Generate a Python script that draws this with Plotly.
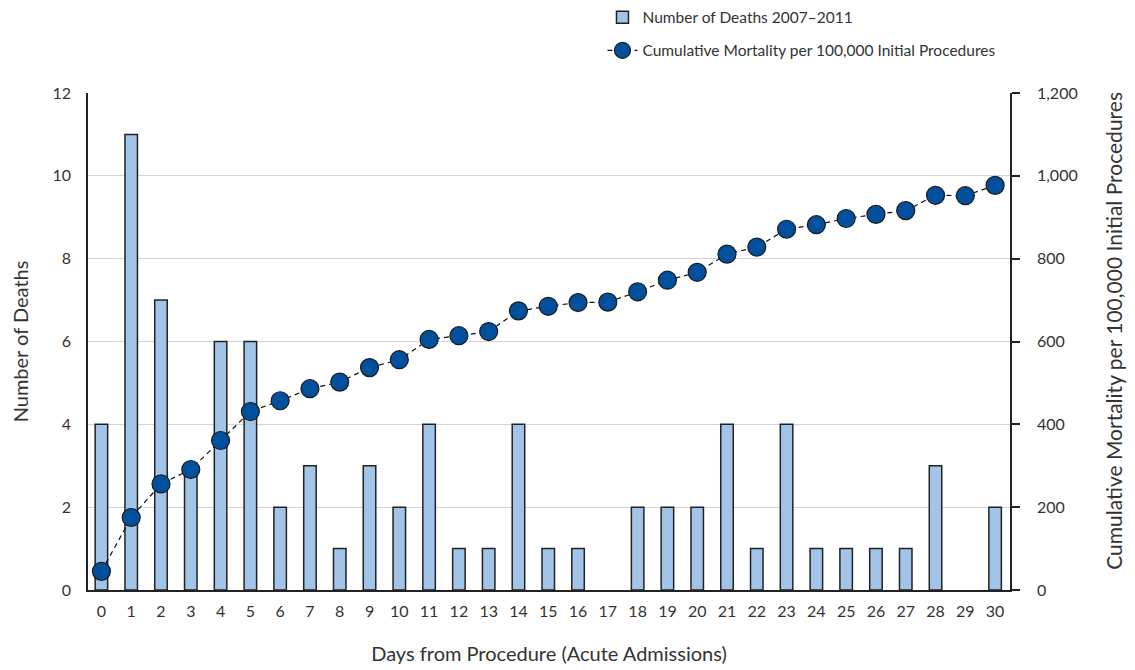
import plotly.graph_objects as go

days = list(range(31))
deaths = [4, 11, 7, 3, 6, 6, 2, 3, 1, 3, 2, 4, 1, 1, 4, 1, 1, 0, 2, 2, 2, 4, 1, 4, 1, 1, 1, 1, 3, 0, 2]
cumulative = [45, 175, 256, 291, 361, 431, 457, 486, 502, 537, 556, 605, 614, 624, 674, 685, 694, 695,
              720, 748, 767, 811, 828, 871, 882, 897, 907, 916, 953, 952, 977]

FONT = "Lato, 'DejaVu Sans', sans-serif"
TXT = "#333333"
RIGHT_TITLE = "Cumulative Mortality per 100,000 Initial Procedures"

bar_line_w = [1.5 if v > 0 else 0 for v in deaths]

fig = go.Figure()
fig.add_trace(go.Bar(
    x=days, y=deaths, name="Number of Deaths 2007\u20132011",
    width=0.42,
    marker=dict(color="#A1C4E8", line=dict(color="#222222", width=bar_line_w)),
    legendgroup="a",
))
fig.add_trace(go.Scatter(
    x=days, y=cumulative, yaxis="y2", mode="lines+markers",
    name=RIGHT_TITLE,
    line=dict(color="#111111", width=1.2, dash="5px,4px"),
    marker=dict(size=18, color="#00509E", line=dict(color="#1a1a1a", width=1.2)),
    legendgroup="b",
))

fig.update_layout(
    width=1135, height=670,
    margin=dict(l=80, r=133, t=85, b=88, autoexpand=False),
    paper_bgcolor="white", plot_bgcolor="white",
    font=dict(family=FONT, size=16, color=TXT),
    showlegend=True,
    legend=dict(
        x=0.558, xanchor="left", y=1.186, yanchor="top",
        xref="paper", yref="paper",
        traceorder="grouped", tracegroupgap=10,
        font=dict(size=15.5, color=TXT),
        bgcolor="rgba(0,0,0,0)", borderwidth=0,
    ),
    xaxis=dict(
        range=[-0.45, 30.5], tickmode="linear", dtick=1, tickangle=0,
        showgrid=False, zeroline=False,
        showline=True, linecolor="#222222", linewidth=1.5,
        ticks="", ticklabelstandoff=6,
        title=dict(text="Days from Procedure (Acute Admissions)", font=dict(size=20, color=TXT), standoff=28),
    ),
    yaxis=dict(
        range=[0, 12], dtick=2,
        showgrid=True, gridcolor="#d4d4d4", gridwidth=1.2,
        zeroline=False,
        showline=True, linecolor="#222222", linewidth=1.5,
        ticks="", ticklabelstandoff=12,
        title=dict(text="Number of Deaths", font=dict(size=20, color=TXT), standoff=20),
    ),
    yaxis2=dict(
        range=[0, 1200], dtick=200, tickformat=",",
        overlaying="y", side="right",
        showgrid=False, zeroline=False,
        showline=True, linecolor="#222222", linewidth=1.5,
        ticks="outside", ticklen=8, tickcolor="#222222", tickwidth=1.5,
        ticklabelstandoff=14,
    ),
    annotations=[dict(
        text=RIGHT_TITLE, textangle=-90, showarrow=False,
        xref="paper", yref="paper", x=1.112, y=0.522,
        xanchor="center", yanchor="middle",
        font=dict(size=21, color=TXT),
    )],
)

fig.write_html("out.html")
